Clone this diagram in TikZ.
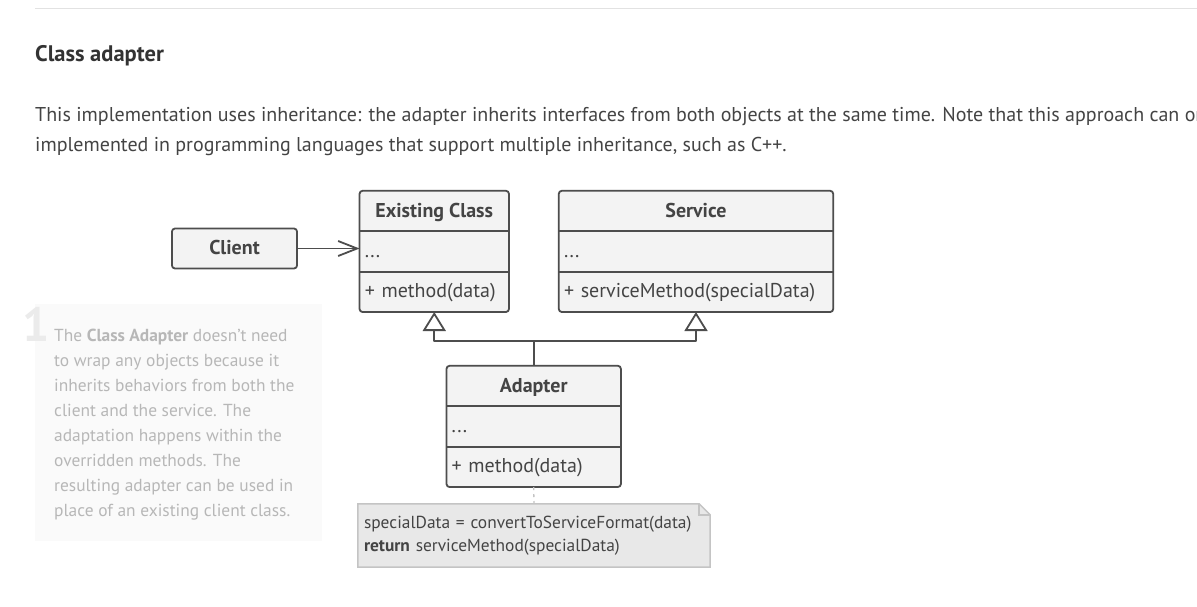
\documentclass[tikz,border=0pt]{standalone}
\usepackage{fontspec}
\setmainfont{PT Sans}
\usetikzlibrary{arrows.meta,positioning,backgrounds}

\definecolor{inkc}{HTML}{333333}
\definecolor{textc}{HTML}{444444}
\definecolor{linec}{HTML}{4D4D4D}
\definecolor{boxfill}{HTML}{F3F3F3}
\definecolor{notefill}{HTML}{E8E8E8}
\definecolor{noteline}{HTML}{C4C4C4}
\definecolor{asidefill}{HTML}{FAFAFA}
\definecolor{asidetext}{HTML}{B7B7B7}
\definecolor{onec}{HTML}{EBEBEB}
\definecolor{rulec}{HTML}{E2E2E2}

\tikzset{
  classhead/.style={font=\fontsize{20}{24}\selectfont\bfseries, text=textc, fill=boxfill,
    minimum height=40pt, inner sep=0pt, text height=16pt, text depth=4pt},
  classrow/.style={font=\fontsize{20}{24}\selectfont, text=textc, fill=boxfill, text width=#1,
    align=left, minimum height=40pt, inner xsep=5pt, inner ysep=0pt, text height=16pt, text depth=4pt},
  classframe/.style={draw=linec, line width=1.8pt, rounded corners=3pt},
  inherit/.style={draw=linec, line width=1.8pt, -{Triangle[open, length=19pt, width=23pt]}},
  uses/.style={draw=linec, line width=1.8pt, -{Straight Barb[length=19pt, width=15pt]}},
}

\begin{document}
\begin{tikzpicture}[x=1pt, y=-1pt, line join=round]
  \useasboundingbox (0,0) rectangle (1197,606);
  \clip (0,0) rectangle (1197,606);
  \begin{scope}[on background layer]
    \fill[white] (0,0) rectangle (1197,606);
  \end{scope}

  % page text above the picture
  \draw[rulec, line width=1pt] (35,8) -- (1197,8);
  \node[anchor=base west, inner sep=0pt, text=inkc, font=\fontsize{22.5}{26}\selectfont\bfseries]
    (title) at (35,61.5) {Class adapter};
  \node[anchor=base west, inner sep=0pt, text=textc, font=\fontsize{20}{30}\selectfont]
    (body1) at (35,121.5) {This implementation uses inheritance: the adapter inherits interfaces from both objects at the same time. Note that this approach can only be};
  \node[anchor=base west, inner sep=0pt, text=textc, font=\fontsize{20}{30}\selectfont]
    (body2) at (35,151) {implemented in programming languages that support multiple inheritance, such as C++.};

  % side remark
  \fill[asidefill] (35,304) rectangle (322,541);
  \node[anchor=base west, inner sep=0pt, text=onec, font=\fontsize{48}{48}\selectfont\bfseries]
    (num) at (22,341) {1};
  \foreach \ln [count=\i] in {%
      {The \textbf{Class Adapter} doesn't need},
      {to wrap any objects because it},
      {inherits behaviors from both the},
      {client and the service. The},
      {adaptation happens within the},
      {overridden methods. The},
      {resulting adapter can be used in},
      {place of an existing client class.}}
    \node[anchor=base west, inner sep=0pt, text=asidetext, font=\fontsize{17.4}{25}\selectfont]
      (aside\i) at (54,316+25*\i) {\ln};

  % classes
  \node[classhead, draw=linec, line width=1.8pt, rounded corners=3pt, minimum width=125]
    (client) at (234.5,248.5) {Client};

  \node[classhead, minimum width=149] (existing) at (434.25,211) {Existing Class};
  \node[classrow=139pt, below=0pt of existing] (existing-attr) {...};
  \node[classrow=139pt, below=0pt of existing-attr] (existing-op) {+ method(data)};

  \node[classhead, minimum width=274] (service) at (696,211) {Service};
  \node[classrow=264pt, below=0pt of service] (service-attr) {...};
  \node[classrow=264pt, below=0pt of service-attr] (service-op) {+ serviceMethod(specialData)};

  \node[classhead, minimum width=174] (adapter) at (533.7,386) {Adapter};
  \node[classrow=164pt, below=0pt of adapter] (adapter-attr) {...};
  \node[classrow=164pt, below=0pt of adapter-attr] (adapter-op) {+ method(data)};

  \foreach \c in {existing, service, adapter} {
    \draw[classframe] (\c.north west) rectangle (\c-op.south east);
    \draw[classframe] (\c-attr.north west) -- (\c-attr.north east)
      (\c-op.north west) -- (\c-op.north east);
  }

  % note
  \node[minimum width=352, minimum height=63, text width=340pt, align=left, inner xsep=6pt,
    text=textc, font=\fontsize{17.4}{23}\selectfont] (note) at (534,535.5)
    {specialData = convertToServiceFormat(data)\\\textbf{return} serviceMethod(specialData)};
  \begin{scope}[on background layer]
    \draw[noteline, fill=notefill, line width=1.5pt] (note.north west)
      -- ([xshift=-11pt]note.north east) -- ([yshift=-11pt]note.north east)
      -- (note.south east) -- (note.south west) -- cycle;
    \draw[noteline, line width=1.5pt] ([xshift=-11pt]note.north east)
      |- ([yshift=-11pt]note.north east);
  \end{scope}

  % connectors
  \draw[uses] (client.east) -- (client.east -| existing-attr.west);
  \draw[inherit] (adapter.north) -- ++(0,-25) -| (existing-op.south);
  \draw[inherit] (adapter.north) -- ++(0,-25) -| (service-op.south);
  \draw[noteline, line width=1.3pt, dash pattern=on 3pt off 4pt] (adapter-op.south) -- (note.north);
\end{tikzpicture}
\end{document}
